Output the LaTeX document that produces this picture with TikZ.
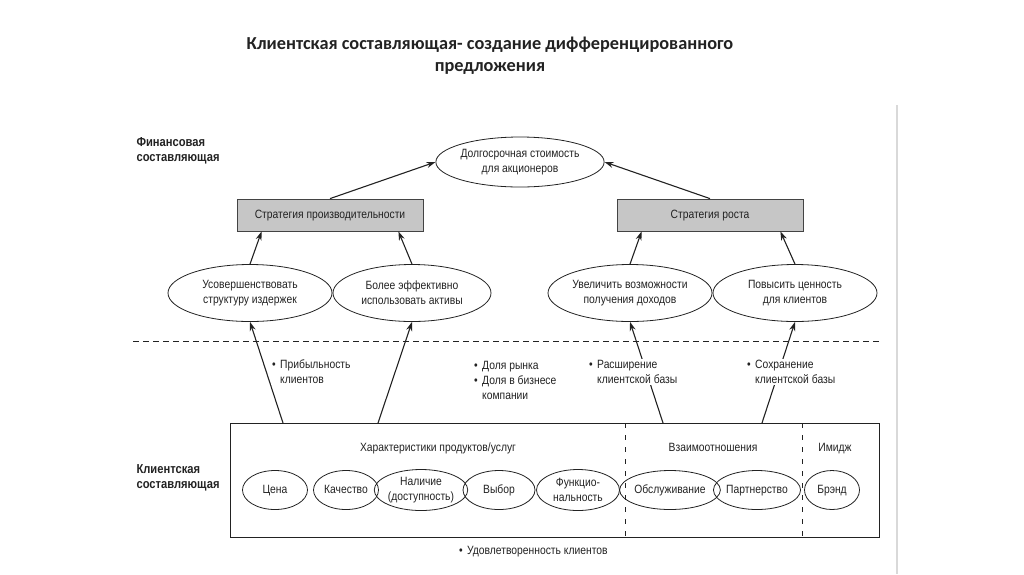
\documentclass[tikz,border=0pt]{standalone}
\usepackage{fontspec}
\setmainfont{Liberation Sans}[FakeStretch=0.86]
\newfontfamily\titlefont{Carlito}
\usetikzlibrary{arrows.meta,shapes.geometric,positioning}
\definecolor{ink}{HTML}{222222}
\definecolor{stipple}{HTML}{C6C6C6}
\newcommand{\diag}{\fontsize{12}{15}\selectfont}
\newcommand{\bul}{\makebox[8pt][l]{\textbullet}}
\tikzset{
	oval/.style={ellipse, draw=ink, line width=0.8pt, inner sep=0pt, align=center},
	oneline/.style={text height=9pt, text depth=3pt},
	strat/.style={rectangle, draw=ink!85, fill=stipple, line width=0.8pt,
			minimum width=186pt, minimum height=32pt, oneline},
	arr/.style={-{Stealth[length=9pt,width=6pt]}, line width=1.1pt, draw=ink},
	note/.style={anchor=west, align=left, fill=white, inner sep=1pt},
	side/.style={anchor=west, align=left, font=\fontsize{13}{15}\selectfont\bfseries}
}

\begin{document}
\begin{tikzpicture}[x=1pt, y=-1pt, every node/.style={font=\diag, text=ink}]
		\useasboundingbox (0,0) rectangle (1024,574);
		\draw [black!15, line width=1.2pt] (897,105) -- (897,574);
		% title
		\node [font=\titlefont\fontsize{18.3}{22}\selectfont\bfseries, align=center] (title) at (490,56)
			{Клиентская составляющая- создание дифференцированного\\предложения};
		% financial part
		\node [side] (fin) at (133,151) {Финансовая\\составляющая};
		\node [oval, minimum width=164pt, minimum height=50pt] (value) at (520,162)
			{Долгосрочная стоимость\\для акционеров};
		\node [strat] (prod) at (330,215) {Стратегия производительности};
		\node [strat] (growth) at (710,215) {Стратегия роста};
		\node [oval, minimum width=164pt, minimum height=57pt] (cost) at (250,293)
			{Усовершенствовать\\структуру издержек};
		\node [oval, minimum width=158pt, minimum height=57pt] (assets) at (412,293)
			{Более эффективно\\использовать активы};
		\node [oval, minimum width=164pt, minimum height=57pt] (revenue) at (630,293)
			{Увеличить возможности\\получения доходов};
		\node [oval, minimum width=164pt, minimum height=57pt] (clientval) at (795,293)
			{Повысить ценность\\для клиентов};
		\draw [arr] (prod.north) -- (value.west);
		\draw [arr] (growth.north) -- (value.east);
		\draw [arr] (cost.north) -- ([xshift=25pt]prod.south west);
		\draw [arr] (assets.north) -- ([xshift=-25pt]prod.south east);
		\draw [arr] (revenue.north) -- ([xshift=25pt]growth.south west);
		\draw [arr] (clientval.north) -- ([xshift=-23pt]growth.south east);
		\draw [ink, line width=0.9pt, dash pattern=on 6pt off 4pt] (133,341) -- (880,341);
		% client part
		\node [side] (cli) at (133,478) {Клиентская\\составляющая};
		\node [draw=ink, line width=1pt, minimum width=649pt, minimum height=114pt, anchor=north west,
			inner sep=0pt] (client) at (230,423) {};
		\draw [ink, line width=0.8pt, dash pattern=on 5pt off 7pt] (625,423) -- (625,537);
		\draw [ink, line width=0.8pt, dash pattern=on 5pt off 7pt] (802,423) -- (802,537);
		\node [oneline] (prodhead) at (438,448) {Характеристики продуктов/услуг};
		\node [oneline] (relhead) at (713,448) {Взаимоотношения};
		\node [oneline] (imghead) at (835,448) {Имидж};
		\node [oval, oneline, minimum width=65pt, minimum height=39pt] (price) at (275,490) {Цена};
		\node [oval, oneline, minimum width=65pt, minimum height=39pt] (quality) at (346,490) {Качество};
		\node [oval, minimum width=78pt, minimum height=41pt] (avail) at (421,490) {Наличие\\(доступность)};
		\node [oval, oneline, minimum width=72pt, minimum height=39pt] (choice) at (499,490) {Выбор};
		\node [oval, minimum width=83pt, minimum height=41pt] (func) at (578,490) {Функцио-\\нальность};
		\node [oval, oneline, minimum width=85pt, minimum height=39pt] (service) at (670,490) {Обслуживание};
		\node [oval, oneline, minimum width=81pt, minimum height=39pt] (partner) at (757,490) {Партнерство};
		\node [oval, oneline, minimum width=55pt, minimum height=39pt] (brand) at (832,490) {Брэнд};
		\coordinate (c1) at ([xshift=53pt]client.north west);
		\coordinate (c2) at ([xshift=148pt]client.north west);
		\coordinate (c3) at ([xshift=433pt]client.north west);
		\coordinate (c4) at ([xshift=532pt]client.north west);
		\draw [arr] (c1) -- (cost.south);
		\draw [arr] (c2) -- (assets.south);
		\draw [arr] (c3) -- (revenue.south);
		\draw [arr] (c4) -- (clientval.south);
		% measures
		\node [note] (profit) at (271,372) {\bul Прибыльность\\\hspace*{8pt}клиентов};
		\node [note] (share) at (473,380) {\bul Доля рынка\\\bul Доля в бизнесе\\\hspace*{8pt}компании};
		\node [note] (gain) at (588,372) {\bul Расширение\\\hspace*{8pt}клиентской базы};
		\node [note] (keep) at (746,372) {\bul Сохранение\\\hspace*{8pt}клиентской базы};
		\node [note] (satisf) at (458,552) {\bul Удовлетворенность клиентов};
	\end{tikzpicture}
\end{document}
